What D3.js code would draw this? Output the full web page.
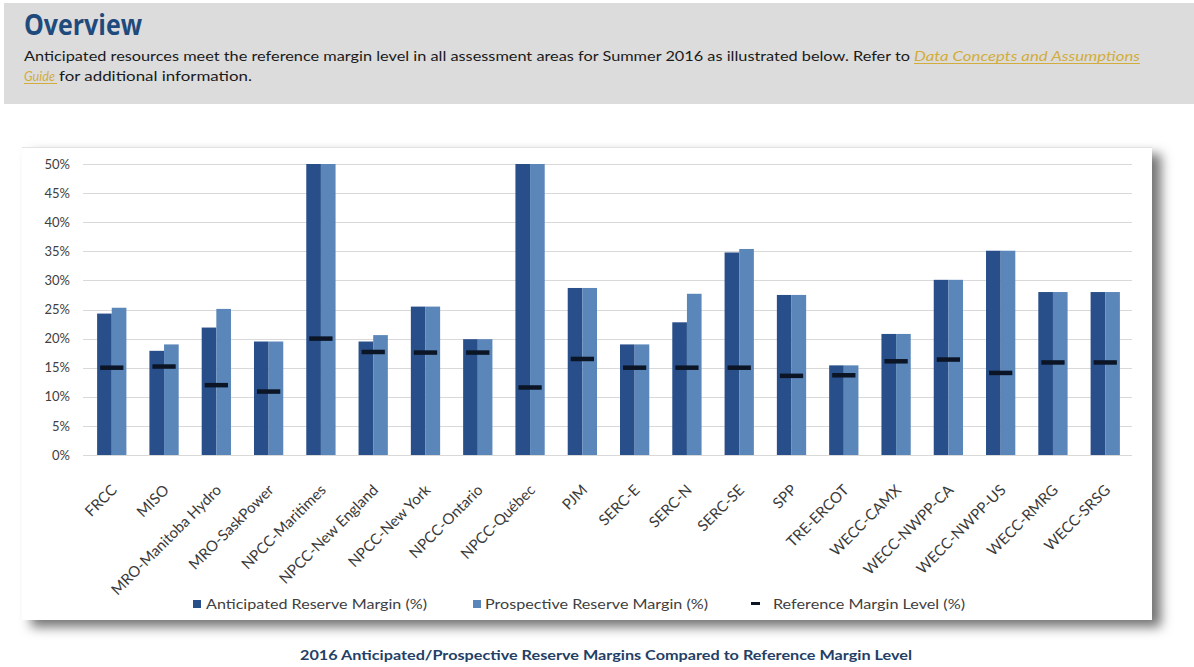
<!DOCTYPE html>
<html>
<head>
<meta charset="utf-8">
<script src="https://cdn.jsdelivr.net/npm/d3@7/dist/d3.min.js"></script>
<style>
  html, body { margin: 0; padding: 0; background: #ffffff; }
  svg { display: block; }
</style>
</head>
<body>
<svg id="chart" width="1194" height="667"></svg>
<script>
// ---------- data ----------
const categories = ["FRCC", "MISO", "MRO-Manitoba Hydro", "MRO-SaskPower", "NPCC-Maritimes",
  "NPCC-New England", "NPCC-New York", "NPCC-Ontario", "NPCC-Québec", "PJM", "SERC-E",
  "SERC-N", "SERC-SE", "SPP", "TRE-ERCOT", "WECC-CAMX", "WECC-NWPP-CA", "WECC-NWPP-US",
  "WECC-RMRG", "WECC-SRSG"];
const anticipated = [24.3, 17.9, 21.9, 19.5, 50, 19.5, 25.5, 19.9, 50, 28.7, 19.0,
  22.8, 34.8, 27.5, 15.4, 20.8, 30.1, 35.1, 28.0, 28.0];
const prospective = [25.3, 19.0, 25.1, 19.5, 50, 20.6, 25.5, 19.9, 50, 28.7, 19.0,
  27.7, 35.4, 27.5, 15.4, 20.8, 30.1, 35.1, 28.0, 28.0];
const referenceLevel = [15.0, 15.2, 12.0, 10.9, 20.0, 17.7, 17.6, 17.6, 11.6, 16.5, 15.0,
  15.0, 15.0, 13.6, 13.7, 16.1, 16.4, 14.1, 15.9, 15.9];
const yTicks = [0, 5, 10, 15, 20, 25, 30, 35, 40, 45, 50];
const seriesNames = ["Anticipated Reserve Margin (%)", "Prospective Reserve Margin (%)", "Reference Margin Level (%)"];

const titleText = "Overview";
const introText = "Anticipated resources meet the reference margin level in all assessment areas for Summer 2016 as illustrated below. Refer to ";
const linkText1 = "Data Concepts and Assumptions";
const linkText2 = "Guide";
const introText2 = "for additional information.";
const captionText = "2016 Anticipated/Prospective Reserve Margins Compared to Reference Margin Level";

// ---------- styles ----------
const DARK = "#284f89", LIGHT = "#5a86b9", REF = "#0b1526";
const FONT = "Lato, 'Open Sans', sans-serif";

const svg = d3.select("#chart");

// defs: shadow filter
const defs = svg.append("defs");
const f = defs.append("filter").attr("id", "shadow").attr("x", "-5%").attr("y", "-5%").attr("width", "115%").attr("height", "120%");
f.append("feDropShadow").attr("dx", 9).attr("dy", 7).attr("stdDeviation", 6).attr("flood-color", "#000").attr("flood-opacity", 0.55);

// ---------- header ----------
svg.append("rect").attr("x", 4).attr("y", 3).attr("width", 1190).attr("height", 101).attr("fill", "#dcdcdc");
svg.append("text").attr("x", 24).attr("y", 35).text(titleText)
  .attr("font-family", "'Open Sans', sans-serif").attr("font-weight", 700).attr("font-size", 28)
  .attr("fill", "#1f4a7c").attr("textLength", 118).attr("lengthAdjust", "spacingAndGlyphs");

svg.append("text").attr("x", 24).attr("y", 61).text(introText)
  .attr("font-family", FONT).attr("font-size", 14).attr("fill", "#1a1a1a")
  .attr("textLength", 886).attr("lengthAdjust", "spacingAndGlyphs");
svg.append("text").attr("x", 914).attr("y", 61).text(linkText1)
  .attr("font-family", FONT).attr("font-size", 14).attr("font-style", "italic").attr("fill", "#d2ad3c")
  .attr("textLength", 226).attr("lengthAdjust", "spacingAndGlyphs");
svg.append("line").attr("x1", 914).attr("x2", 1140).attr("y1", 63.5).attr("y2", 63.5).attr("stroke", "#d2ad3c").attr("stroke-width", 1);
svg.append("text").attr("x", 24).attr("y", 81).text(linkText2)
  .attr("font-family", FONT).attr("font-size", 14).attr("font-style", "italic").attr("fill", "#d2ad3c")
  .attr("textLength", 31).attr("lengthAdjust", "spacingAndGlyphs");
svg.append("line").attr("x1", 24).attr("x2", 57).attr("y1", 83.5).attr("y2", 83.5).attr("stroke", "#d2ad3c").attr("stroke-width", 1);
svg.append("text").attr("x", 59).attr("y", 81).text(introText2)
  .attr("font-family", FONT).attr("font-size", 14).attr("fill", "#1a1a1a")
  .attr("textLength", 193).attr("lengthAdjust", "spacingAndGlyphs");

// ---------- chart panel ----------
svg.append("rect").attr("x", 22).attr("y", 147).attr("width", 1130).attr("height", 473)
  .attr("fill", "#ffffff").attr("filter", "url(#shadow)");
svg.append("line").attr("x1", 22).attr("x2", 1152).attr("y1", 147.5).attr("y2", 147.5).attr("stroke", "#e4e4e4");

const y = d3.scaleLinear().domain([0, 50]).range([455, 164]).clamp(true);
const x0 = d3.scaleBand().domain(categories).range([83, 1134]).paddingInner(0.44).paddingOuter(0.27);
const x1 = d3.scaleBand().domain(["a", "p"]).range([0, x0.bandwidth()]);

// gridlines
const grid = svg.append("g");
grid.selectAll("line").data(yTicks).join("line")
  .attr("x1", 83).attr("x2", 1132)
  .attr("y1", d => Math.round(y(d)) + 0.5).attr("y2", d => Math.round(y(d)) + 0.5)
  .attr("stroke", "#d9d9d9").attr("stroke-width", 1.2);

// y axis labels
const yAxis = d3.axisLeft(y).tickValues(yTicks).tickFormat(d => d + "%").tickSize(0).tickPadding(0);
const yg = svg.append("g").attr("transform", "translate(70,0)").call(yAxis);
yg.select(".domain").remove();
yg.selectAll("text").attr("font-family", FONT).attr("font-size", 13).attr("fill", "#404040");

// bars
const groups = svg.append("g").selectAll("g").data(categories).join("g")
  .attr("transform", d => `translate(${x0(d)},0)`);
groups.append("rect").attr("x", x1("a")).attr("width", x1.bandwidth())
  .attr("y", (d, i) => y(anticipated[i])).attr("height", (d, i) => y(0) - y(anticipated[i]))
  .attr("fill", DARK);
groups.append("rect").attr("x", x1("p")).attr("width", x1.bandwidth())
  .attr("y", (d, i) => y(prospective[i])).attr("height", (d, i) => y(0) - y(prospective[i]))
  .attr("fill", LIGHT);
groups.append("rect").attr("x", 3).attr("width", x0.bandwidth() - 6)
  .attr("y", (d, i) => y(referenceLevel[i]) - 2.25).attr("height", 4.5)
  .attr("fill", REF);

// x labels
const xAxis = d3.axisBottom(x0).tickSize(0).tickPadding(0);
const xg = svg.append("g").attr("transform", "translate(0,455)").call(xAxis);
xg.select(".domain").remove();
xg.selectAll("text")
  .attr("font-family", FONT).attr("font-size", 15).attr("fill", "#3a3a3a")
  .attr("text-anchor", "end").attr("dy", 0).attr("y", 0)
  .attr("transform", "translate(6,36) rotate(-45)");

// legend
const legend = svg.append("g").attr("font-family", FONT).attr("font-size", 14).attr("fill", "#404040");
const legendItems = [
  { name: seriesNames[0], sx: 193, tx: 206, tl: 221, color: DARK, type: "sq" },
  { name: seriesNames[1], sx: 473, tx: 485, tl: 223, color: LIGHT, type: "sq" },
  { name: seriesNames[2], sx: 751, tx: 773, tl: 192, color: REF, type: "dash" }
];
legendItems.forEach(it => {
  if (it.type === "sq") {
    legend.append("rect").attr("x", it.sx).attr("y", 600).attr("width", 8).attr("height", 8).attr("fill", it.color);
  } else {
    legend.append("rect").attr("x", it.sx).attr("y", 602).attr("width", 9).attr("height", 3).attr("fill", it.color);
  }
  legend.append("text").attr("x", it.tx).attr("y", 609).text(it.name)
    .attr("textLength", it.tl).attr("lengthAdjust", "spacingAndGlyphs");
});

// caption
svg.append("text").attr("x", 300).attr("y", 660).text(captionText)
  .attr("font-family", FONT).attr("font-weight", 700).attr("font-size", 13).attr("fill", "#243f66")
  .attr("textLength", 612).attr("lengthAdjust", "spacingAndGlyphs");
</script>
</body>
</html>
